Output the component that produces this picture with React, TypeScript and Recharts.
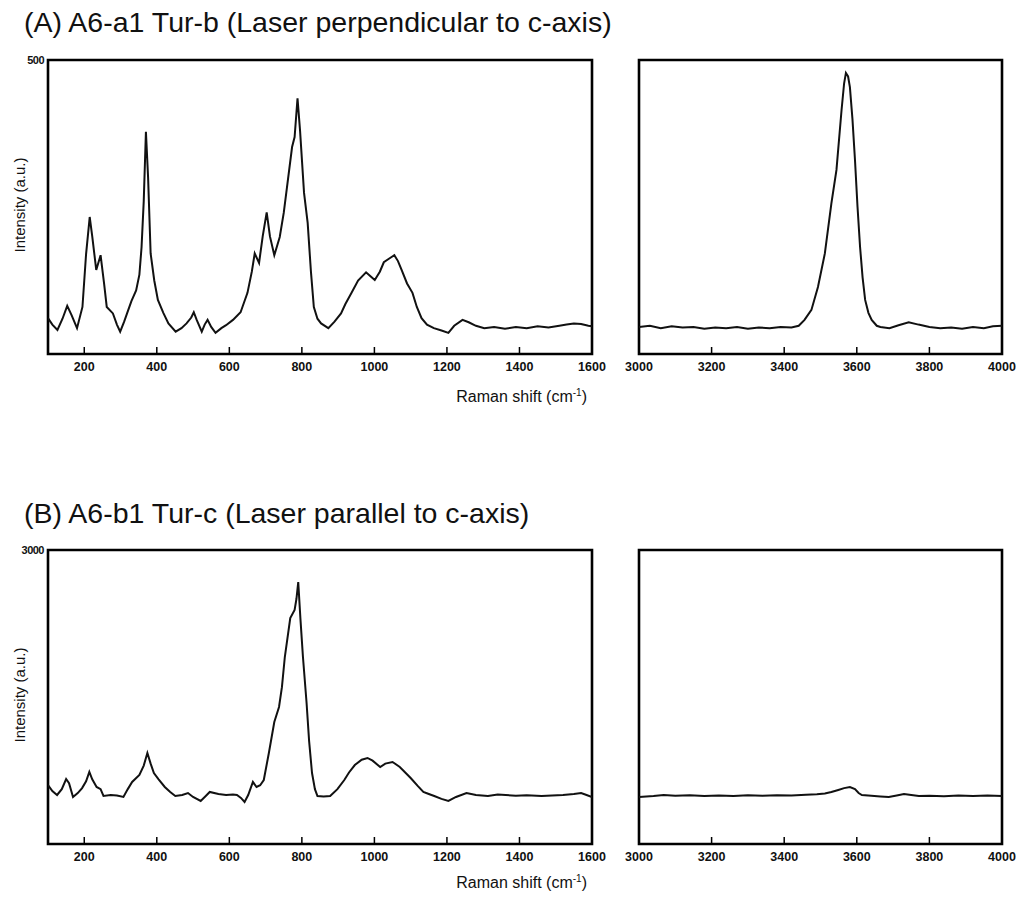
import React from "react"
import { LineChart, Line, XAxis, YAxis, ReferenceArea } from "recharts"

// Panel A, low-frequency region (Raman shift, intensity)
const shiftA1 = [
  100, 112, 126, 140, 153, 165, 180, 195, 205, 215, 222, 233, 245, 255, 262, 279, 290, 299, 310, 318,
  330, 343, 352, 358, 364, 370, 376, 383, 393, 403, 418, 432, 452, 468, 482, 495, 502, 510, 524, 532,
  540, 550, 562, 578, 591, 610, 631, 650, 662, 670, 682, 692, 703, 712, 724, 739, 750, 759, 773, 780,
  788, 795, 806, 816, 825, 833, 843, 853, 873, 890, 908, 920, 937, 955, 977, 990, 1001, 1015, 1026, 1040,
  1055, 1065, 1075, 1090, 1105, 1117, 1130, 1145, 1164, 1185, 1204, 1220, 1243, 1260, 1280, 1303, 1330, 1360, 1390, 1420,
  1450, 1480, 1510, 1530, 1550, 1570, 1590, 1600,
]
const intensityA1 = [
  61, 50, 41, 60, 82, 66, 44, 80, 170, 233, 200, 143, 168, 118, 80, 69, 50, 38, 55, 69,
  90, 108, 135, 182, 260, 378, 300, 171, 125, 92, 70, 52, 38, 44, 52, 62, 71, 58, 38, 50,
  58, 46, 36, 44, 49, 58, 71, 104, 140, 171, 155, 200, 241, 200, 168, 199, 240, 284, 352, 369,
  435, 380, 274, 223, 140, 80, 60, 52, 44, 55, 69, 85, 104, 125, 139, 132, 126, 140, 156, 162,
  168, 158, 143, 120, 104, 80, 61, 50, 44, 40, 36, 48, 58, 54, 48, 44, 46, 43, 46, 44,
  47, 45, 48, 50, 52, 51, 48, 47,
]

// Panel A, O-H region
const shiftA2 = [
  3000, 3030, 3060, 3090, 3120, 3150, 3180, 3210, 3240, 3270, 3300, 3330, 3360, 3390, 3420, 3440, 3456, 3475, 3493, 3512,
  3530, 3544, 3558, 3565, 3570, 3576, 3581, 3588, 3595, 3602, 3609, 3616, 3623, 3632, 3641, 3655, 3665, 3690, 3715, 3743,
  3770, 3800, 3830, 3860, 3890, 3920, 3950, 3975, 4000,
]
const intensityA2 = [
  46, 48, 44, 47, 45, 46, 43, 45, 44, 46, 43, 45, 44, 46, 45, 48, 58, 75, 114, 171,
  256, 313, 415, 460, 478, 472, 454, 400, 330, 250, 182, 130, 92, 70, 58, 48, 46, 44, 49, 54,
  50, 46, 44, 45, 43, 46, 44, 47, 48,
]

// Panel B, low-frequency region
const shiftB1 = [
  100, 112, 125, 138, 150, 158, 169, 182, 194, 205, 214, 222, 234, 245, 253, 273, 290, 308, 320, 332,
  352, 364, 374, 383, 392, 405, 422, 437, 451, 470, 486, 500, 521, 535, 546, 570, 591, 610, 621, 632,
  642, 652, 665, 675, 685, 695, 709, 724, 737, 745, 753, 768, 780, 785, 790, 796, 803, 813, 820, 828,
  836, 843, 860, 878, 898, 917, 930, 946, 965, 981, 995, 1016, 1030, 1050, 1070, 1085, 1100, 1120, 1135, 1150,
  1165, 1185, 1204, 1225, 1254, 1280, 1313, 1340, 1362, 1390, 1420, 1461, 1490, 1520, 1550, 1570, 1585, 1600,
]
const intensityB1 = [
  602, 540, 500, 560, 663, 620, 480, 520, 571, 640, 735, 660, 582, 560, 490, 500, 495, 480, 560, 633,
  704, 800, 929, 820, 724, 660, 582, 530, 490, 500, 520, 480, 439, 490, 531, 510, 500, 505, 500, 470,
  429, 500, 633, 582, 600, 653, 929, 1245, 1398, 1600, 1908, 2306, 2388, 2500, 2673, 2300, 1908, 1439, 1050, 724,
  560, 490, 485, 490, 560, 653, 730, 806, 860, 878, 850, 786, 820, 837, 786, 730, 673, 590, 531, 510,
  490, 460, 439, 480, 520, 500, 490, 505, 500, 492, 498, 490, 495, 500, 510, 520, 500, 480,
]

// Panel B, O-H region
const shiftB2 = [
  3000, 3040, 3068, 3100, 3140, 3180, 3220, 3260, 3300, 3340, 3380, 3420, 3460, 3490, 3512, 3530, 3549, 3565, 3581, 3595,
  3605, 3614, 3640, 3665, 3688, 3710, 3730, 3750, 3771, 3800, 3840, 3880, 3920, 3960, 4000,
]
const intensityB2 = [
  480, 490, 500, 492, 498, 490, 495, 490, 497, 492, 498, 495, 502, 508, 515, 530, 551, 570, 582, 560,
  520, 500, 492, 485, 480, 495, 510, 500, 490, 492, 488, 494, 490, 495, 490,
]

const lowTicks = [200, 400, 600, 800, 1000, 1200, 1400, 1600]
const highTicks = [3000, 3200, 3400, 3600, 3800, 4000]

const FONT = "'Liberation Sans', Arial, Helvetica, sans-serif"

const toRows = (xs: number[], ys: number[]) => xs.map((x, i) => ({ shift: x, intensity: ys[i] }))

const XTick = (props: any) => {
  const { x, y, payload } = props
  return (
    <g>
      <line x1={x} x2={x} y1={y - 7} y2={y} stroke="#000" strokeWidth={1.5} />
      <text x={x} y={y + 17} textAnchor="middle" fontSize={12.5} fontWeight={600} fill="#111" fontFamily={FONT}>
        {payload.value}
      </text>
    </g>
  )
}

const YTick = (props: any) => {
  const { x, y, payload } = props
  return (
    <text x={x - 4} y={y + 4} textAnchor="end" fontSize={11} fontWeight={600} fill="#111" fontFamily={FONT} letterSpacing={-0.5}>
      {payload.value}
    </text>
  )
}

function Spectrum({
  rows, domainX, ticks, maxY, showY, width, margin,
}: {
  rows: Array<{ shift: number; intensity: number }>
  domainX: [number, number]
  ticks: number[]
  maxY: number
  showY: boolean
  width: number
  margin: { top: number; right: number; bottom: number; left: number }
}) {
  return (
    <LineChart width={width} height={360} data={rows} margin={margin}>
      <XAxis
        type="number" dataKey="shift" domain={domainX} ticks={ticks} allowDataOverflow
        axisLine={false} tickLine={false} tickSize={0} tickMargin={0} height={30}
        tick={<XTick />} interval={0}
      />
      <YAxis
        type="number" domain={[0, maxY]} ticks={[maxY]} allowDataOverflow hide={!showY}
        axisLine={false} tickLine={false} tickSize={0} tickMargin={0} width={showY ? 40 : 0}
        tick={<YTick />}
      />
      <Line
        type="linear" dataKey="intensity" stroke="#111" strokeWidth={2}
        dot={false} isAnimationActive={false}
      />
      <ReferenceArea
        x1={domainX[0]} x2={domainX[1]} y1={0} y2={maxY}
        fill="none" fillOpacity={0} stroke="#000" strokeWidth={2.6} ifOverflow="visible"
      />
    </LineChart>
  )
}

const Title = ({ text, top }: { text: string; top: number }) => (
  <div style={{ position: "absolute", left: 24, top, fontSize: 28.5, lineHeight: "32px", color: "#111", whiteSpace: "nowrap" }}>{text}</div>
)

const YLabel = ({ cy }: { cy: number }) => (
  <div
    style={{
      position: "absolute", left: 20 - 90, top: cy - 10, width: 180, height: 20, lineHeight: "20px",
      textAlign: "center", fontSize: 15, color: "#111", transform: "rotate(-90deg)", whiteSpace: "nowrap",
    }}
  >
    Intensity (a.u.)
  </div>
)

const XLabel = ({ top }: { top: number }) => (
  <div style={{ position: "absolute", left: 400, width: 187, top, textAlign: "right", fontSize: 16, lineHeight: "20px", color: "#111", whiteSpace: "nowrap" }}>
    Raman shift (cm<sup style={{ fontSize: 10, verticalAlign: "6px", lineHeight: 0 }}>-1</sup>)
  </div>
)

export default function App() {
  const leftMargin = { top: 20, right: 28, bottom: 16, left: 8 }
  const rightMargin = { top: 20, right: 14, bottom: 16, left: 39 }
  return (
    <div
      style={{
        position: "absolute", left: 0, top: 0, width: 1016, height: 899,
        background: "#fff", fontFamily: FONT, overflow: "hidden",
      }}
    >
      <Title text="(A) A6-a1 Tur-b (Laser perpendicular to c-axis)" top={6} />
      <div style={{ position: "absolute", left: 600, top: 40 }}>
        <Spectrum rows={toRows(shiftA2, intensityA2)} domainX={[3000, 4000]} ticks={highTicks}
          maxY={500} showY={false} width={416} margin={rightMargin} />
      </div>
      <div style={{ position: "absolute", left: 0, top: 40 }}>
        <Spectrum rows={toRows(shiftA1, intensityA1)} domainX={[100, 1600]} ticks={lowTicks}
          maxY={500} showY width={620} margin={leftMargin} />
      </div>
      <YLabel cy={205} />
      <XLabel top={387} />

      <Title text="(B) A6-b1 Tur-c (Laser parallel to c-axis)" top={497} />
      <div style={{ position: "absolute", left: 600, top: 530 }}>
        <Spectrum rows={toRows(shiftB2, intensityB2)} domainX={[3000, 4000]} ticks={highTicks}
          maxY={3000} showY={false} width={416} margin={rightMargin} />
      </div>
      <div style={{ position: "absolute", left: 0, top: 530 }}>
        <Spectrum rows={toRows(shiftB1, intensityB1)} domainX={[100, 1600]} ticks={lowTicks}
          maxY={3000} showY width={620} margin={leftMargin} />
      </div>
      <YLabel cy={695} />
      <XLabel top={873} />
    </div>
  )
}
